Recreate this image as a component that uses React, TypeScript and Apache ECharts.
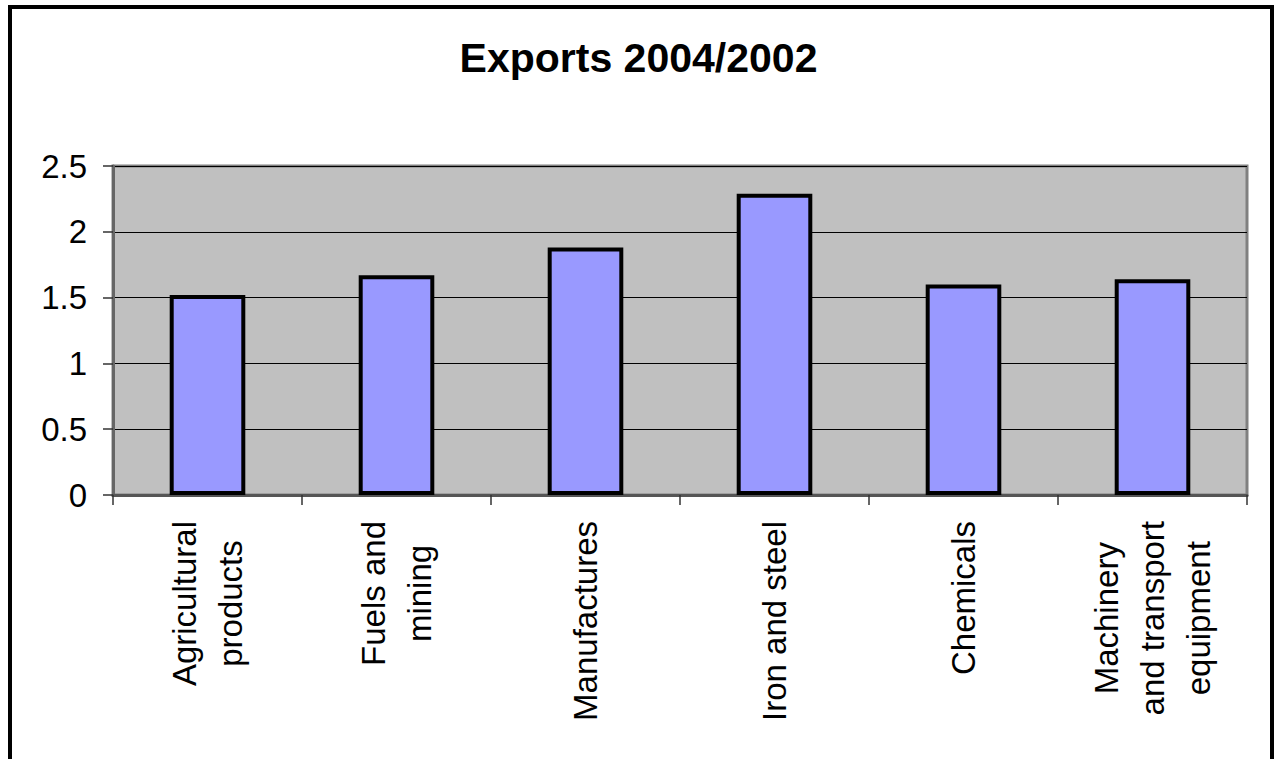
import React, { useEffect, useRef } from "react";
import * as echarts from "echarts";

const titleText = "Exports 2004/2002";
const categories = [
  "Agricultural\nproducts",
  "Fuels and\nmining",
  "Manufactures",
  "Iron and steel",
  "Chemicals",
  "Machinery\nand transport\nequipment",
];
const values = [1.52, 1.67, 1.88, 2.29, 1.6, 1.64];
const yMin = 0;
const yMax = 2.5;
const yInterval = 0.5;

const FONT = "'Liberation Sans', Arial, Helvetica, sans-serif";

export default function App() {
  const ref = useRef<HTMLDivElement>(null);
  useEffect(() => {
    if (!ref.current) return;
    const chart = echarts.init(ref.current, null, { renderer: "svg" });
    chart.setOption({
      animation: false,
      backgroundColor: "#ffffff",
      title: {
        text: titleText,
        left: "center",
        top: 32,
        textStyle: { fontFamily: FONT, fontSize: 41, fontWeight: "bold", color: "#000" },
      },
      grid: {
        left: 113,
        top: 166,
        right: 30,
        bottom: 264,
        show: true,
        backgroundColor: "#C0C0C0",
        borderColor: "#808080",
        borderWidth: 3,
      },
      graphic: [
        {
          type: "rect",
          shape: { x: 10, y: 7, width: 1262, height: 800 },
          style: { fill: "none", stroke: "#000", lineWidth: 4 },
          silent: true,
          z: 100,
        },
      ],
      xAxis: {
        type: "category",
        data: categories,
        axisLine: { show: true, lineStyle: { color: "#555", width: 3 } },
        axisTick: { show: true, length: 10, lineStyle: { color: "#333", width: 1.5 } },
        axisLabel: {
          rotate: 90,
          margin: 26,
          interval: 0,
          color: "#000",
          fontFamily: FONT,
          fontSize: 33,
          lineHeight: 46,
          formatter: (v: string) =>
            v
              .split("\n")
              .map((l) => `{c|${l}}`)
              .join("\n"),
          rich: {
            c: {
              align: "center",
              fontFamily: FONT,
              fontSize: 33,
              lineHeight: 46,
              color: "#000",
            },
          },
        },
      },
      yAxis: {
        type: "value",
        min: yMin,
        max: yMax,
        interval: yInterval,
        axisLine: { show: true, lineStyle: { color: "#666", width: 3 } },
        axisTick: { show: true, length: 10, lineStyle: { color: "#333", width: 1.5 } },
        axisLabel: {
          margin: 26,
          fontFamily: FONT,
          fontSize: 33,
          color: "#000",
        },
        splitLine: { show: true, lineStyle: { color: "#000", width: 1 } },
      },
      series: [
        {
          type: "bar",
          data: values,
          barWidth: "40%",
          itemStyle: { color: "#9999FF", borderColor: "#000", borderWidth: 4 },
        },
      ],
    });
    return () => chart.dispose();
  }, []);
  return <div ref={ref} style={{ width: 1277, height: 759, position: "absolute", left: 0, top: 0 }} />;
}
